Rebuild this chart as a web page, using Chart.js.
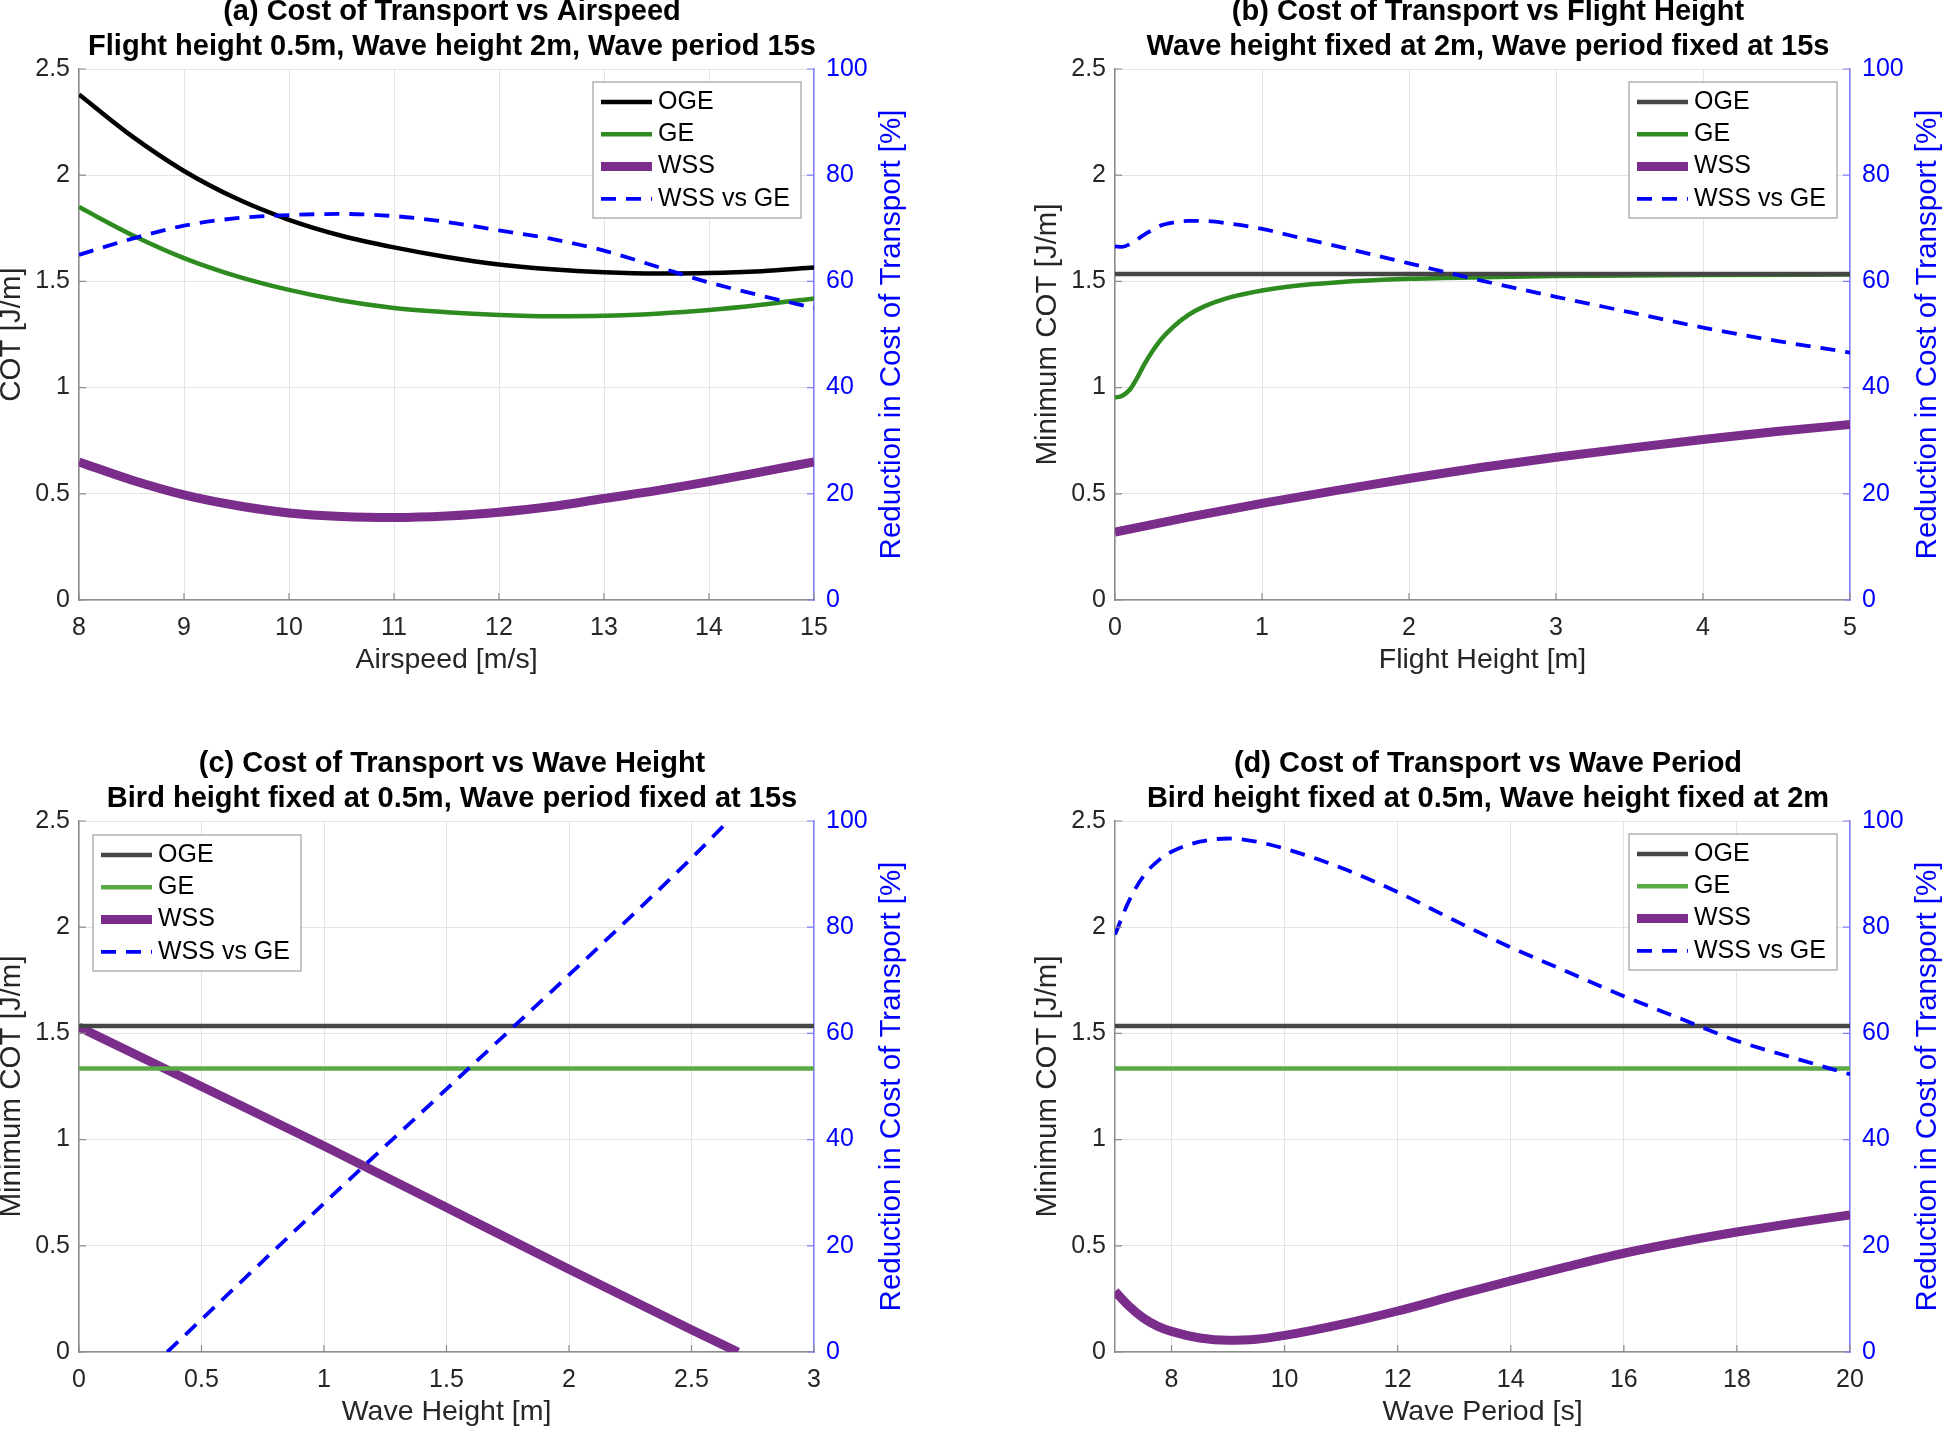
<!DOCTYPE html>
<html>
<head>
<meta charset="utf-8">
<script src="https://cdn.jsdelivr.net/npm/chart.js@4.4.0/dist/chart.umd.min.js"></script>
<style>
  body { margin: 0; background: #fff; width: 1943px; height: 1429px; overflow: hidden; position: relative; }
  canvas { position: absolute; }
</style>
</head>
<body>
<canvas id="panelA" width="970" height="680" style="left:0px;top:-5px"></canvas>
<canvas id="panelB" width="973" height="680" style="left:970px;top:-5px"></canvas>
<canvas id="panelC" width="970" height="680" style="left:0px;top:747px"></canvas>
<canvas id="panelD" width="973" height="680" style="left:970px;top:747px"></canvas>
<script>
// ---- data ----
// (a) vs airspeed
var aX      = [8, 8.5, 9, 9.5, 10, 10.5, 11, 11.5, 12, 12.5, 13, 13.5, 14, 14.5, 15];
var aOGE    = [2.38, 2.185, 2.02, 1.89, 1.79, 1.715, 1.66, 1.615, 1.58, 1.557, 1.543, 1.537, 1.539, 1.548, 1.565];
var aGE     = [1.85, 1.72, 1.61, 1.525, 1.46, 1.41, 1.375, 1.355, 1.342, 1.336, 1.338, 1.348, 1.365, 1.39, 1.42];
var aWSS    = [0.65, 0.565, 0.495, 0.445, 0.41, 0.393, 0.388, 0.395, 0.413, 0.44, 0.478, 0.515, 0.557, 0.603, 0.65];
var aRed    = [65, 68, 70.5, 71.9, 72.5, 72.7, 72.3, 71.2, 69.6, 68, 65.8, 62.8, 59.8, 57.3, 55];
var aTicks  = [8, 9, 10, 11, 12, 13, 14, 15];

// (b) vs flight height
var bOGEx   = [0, 5];
var bOGE    = [1.535, 1.535];
var bGEx    = [0, 0.05, 0.1, 0.15, 0.2, 0.3, 0.4, 0.5, 0.6, 0.8, 1, 1.2, 1.5, 2, 2.5, 3, 4, 5];
var bGE     = [0.953, 0.962, 0.99, 1.045, 1.11, 1.215, 1.288, 1.342, 1.38, 1.428, 1.457, 1.477, 1.495, 1.512, 1.52, 1.525, 1.53, 1.532];
var bWSSx   = [0, 0.5, 1, 1.5, 2, 2.5, 3, 3.5, 4, 4.5, 5];
var bWSS    = [0.32, 0.39, 0.455, 0.515, 0.572, 0.625, 0.672, 0.715, 0.756, 0.793, 0.826];
var bRedx   = [0, 0.05, 0.1, 0.2, 0.3, 0.4, 0.5, 0.6, 0.8, 1, 1.2, 1.5, 2, 2.5, 3, 3.5, 4, 4.5, 5];
var bRed    = [66.6, 66.5, 67, 68.8, 70.4, 71.1, 71.4, 71.4, 70.8, 69.9, 68.6, 66.7, 63.4, 60.1, 57.1, 54.2, 51.3, 48.8, 46.6];
var bTicks  = [0, 1, 2, 3, 4, 5];

// (c) vs wave height
var cFlatx  = [0, 3];
var cOGE    = [1.535, 1.535];
var cGE     = [1.335, 1.335];
var cWSSx   = [0, 0.5, 1, 1.5, 2, 2.5, 2.69];
var cWSS    = [1.53, 1.25, 0.97, 0.68, 0.39, 0.105, 0];
var cRedx   = [0.36, 1, 1.5, 2, 2.5, 2.65];
var cRed    = [0, 28, 49.5, 71, 93, 100];
var cTicks  = [0, 0.5, 1, 1.5, 2, 2.5, 3];

// (d) vs wave period
var dFlatx  = [7, 20];
var dOGE    = [1.535, 1.535];
var dGE     = [1.335, 1.335];
var dX      = [7, 7.25, 7.5, 7.75, 8, 8.5, 9, 9.5, 10, 11, 12, 13, 14, 15, 16, 17, 18, 19, 20];
var dWSS    = [0.285, 0.215, 0.16, 0.122, 0.097, 0.066, 0.055, 0.06, 0.078, 0.13, 0.193, 0.265, 0.335, 0.402, 0.465, 0.518, 0.565, 0.607, 0.645];
var dRed    = [78.6, 85, 89.6, 92.4, 94.2, 96.1, 96.7, 96.1, 94.8, 91.2, 86.6, 81.3, 76.2, 71.6, 67, 62.8, 58.6, 55.4, 52.3];
var dTicks  = [8, 10, 12, 14, 16, 18, 20];

var cotTicks = [0, 0.5, 1, 1.5, 2, 2.5];
var redTicks = [0, 20, 40, 60, 80, 100];

var FONT = "'Liberation Sans', Arial, Helvetica, sans-serif";
var TXT = '#262626';

function pts(xs, ys) {
  return xs.map(function(x, i) { return {x: x, y: ys[i]}; });
}

// inward tick marks, the blue right-hand title and the boxed legend
var frameExtras = {
  id: 'frameExtras',
  afterDraw: function(chart, args, opts) {
    var ctx = chart.ctx, a = chart.chartArea;
    var x = chart.scales.x, y = chart.scales.y, y1 = chart.scales.y1;
    ctx.save();
    ctx.lineWidth = 1.2;
    ctx.strokeStyle = '#8c8c8c';
    ctx.beginPath();
    x.ticks.forEach(function(t) {
      var px = x.getPixelForValue(t.value);
      ctx.moveTo(px, a.bottom); ctx.lineTo(px, a.bottom - 7);
    });
    y.ticks.forEach(function(t) {
      var py = y.getPixelForValue(t.value);
      ctx.moveTo(a.left, py); ctx.lineTo(a.left + 7, py);
    });
    ctx.stroke();
    ctx.strokeStyle = '#8080ff';
    ctx.beginPath();
    y1.ticks.forEach(function(t) {
      var py = y1.getPixelForValue(t.value);
      ctx.moveTo(a.right, py); ctx.lineTo(a.right - 7, py);
    });
    ctx.stroke();
    ctx.restore();

    // right axis title reads bottom-to-top like the left one
    ctx.save();
    ctx.translate(a.right + 78, (a.top + a.bottom) / 2);
    ctx.rotate(-Math.PI / 2);
    ctx.fillStyle = '#0000ff';
    ctx.font = '29.5px ' + FONT;
    ctx.textAlign = 'center';
    ctx.textBaseline = 'middle';
    ctx.fillText(opts.rightTitle, 0, 0);
    ctx.restore();

    // legend
    var w = 208, h = 136;
    var bx = opts.corner === 'tl' ? a.left + 14 : a.right - 13 - w;
    var by = opts.corner === 'tl' ? a.top + 14 : a.top + 13;
    ctx.save();
    ctx.fillStyle = '#fff';
    ctx.fillRect(bx, by, w, h);
    ctx.strokeStyle = '#a0a0a0';
    ctx.lineWidth = 1.2;
    ctx.strokeRect(bx, by, w, h);
    chart.data.datasets.forEach(function(ds, i) {
      var yy = by + 20 + i * 32.3;
      ctx.beginPath();
      ctx.setLineDash(ds.borderDash || []);
      ctx.strokeStyle = ds.borderColor;
      ctx.lineWidth = ds.borderWidth;
      ctx.moveTo(bx + 8, yy); ctx.lineTo(bx + 59, yy);
      ctx.stroke();
      ctx.setLineDash([]);
      ctx.fillStyle = '#000';
      ctx.font = '25px ' + FONT;
      ctx.textBaseline = 'middle';
      ctx.textAlign = 'left';
      ctx.fillText(ds.label, bx + 65, yy);
    });
    ctx.restore();
  }
};

function fixTicks(list) {
  return function(scale) { scale.ticks = list.map(function(v) { return {value: v}; }); };
}

function plainLabel(v) { return String(v); }

function makePanel(id, p) {
  var ctx = document.getElementById(id).getContext('2d');
  return new Chart(ctx, {
    type: 'line',
    data: {
      datasets: [
        { label: 'OGE', data: p.oge, borderColor: p.ogeColor, borderWidth: 4.5, yAxisID: 'y', order: 2 },
        { label: 'GE', data: p.ge, borderColor: p.geColor, borderWidth: 4.5, yAxisID: 'y', order: 3 },
        { label: 'WSS', data: p.wss, borderColor: '#7b2d8c', borderWidth: 9, yAxisID: 'y', order: 4 },
        { label: 'WSS vs GE', data: p.red, borderColor: '#0000ff', borderWidth: 3.8, borderDash: [15, 10], yAxisID: 'y1', order: 1 }
      ]
    },
    options: {
      responsive: false,
      devicePixelRatio: 1,
      animation: false,
      layout: { padding: { left: p.padL, right: p.padR, top: 0, bottom: 0 } },
      elements: {
        point: { radius: 0 },
        line: { cubicInterpolationMode: 'monotone', fill: false }
      },
      plugins: {
        legend: { display: false },
        tooltip: { enabled: false },
        title: {
          display: true,
          text: p.title,
          color: '#000',
          font: { family: FONT, size: 29, weight: 'bold', lineHeight: 1.2 },
          padding: { top: 0, bottom: 4.4 }
        },
        frameExtras: { rightTitle: 'Reduction in Cost of Transport [%]', corner: p.corner }
      },
      scales: {
        x: {
          type: 'linear',
          min: p.xMin, max: p.xMax,
          afterBuildTicks: fixTicks(p.xTicks),
          afterFit: function(s) { s.height = 75; },
          grid: { color: '#e3e3e3', drawTicks: false },
          border: { color: '#8c8c8c', width: 1.5 },
          ticks: { color: TXT, padding: 13, font: { family: FONT, size: 25 }, maxRotation: 0, callback: plainLabel },
          title: { display: true, text: p.xTitle, color: TXT, padding: { top: 0, bottom: 1 },
                   font: { family: FONT, size: 28.5, lineHeight: 1.0 } }
        },
        y: {
          position: 'left',
          min: 0, max: 2.5,
          afterBuildTicks: fixTicks(cotTicks),
          afterFit: function(s) { s.width = 79; },
          grid: { color: '#e3e3e3', drawTicks: false },
          border: { color: '#8c8c8c', width: 1.5 },
          ticks: { color: TXT, padding: 9, font: { family: FONT, size: 25 }, callback: plainLabel },
          title: { display: true, text: p.yTitle, color: TXT, padding: 0,
                   font: { family: FONT, size: 29.5, lineHeight: 0.82 } }
        },
        y1: {
          position: 'right',
          min: 0, max: 100,
          afterBuildTicks: fixTicks(redTicks),
          afterFit: function(s) { s.width = 90; },
          grid: { display: false, drawTicks: false },
          border: { color: '#8080ff', width: 1.5 },
          ticks: { color: '#0000ff', padding: 12, font: { family: FONT, size: 25 }, callback: plainLabel }
        }
      }
    },
    plugins: [frameExtras]
  });
}

makePanel('panelA', {
  title: ['(a) Cost of Transport vs Airspeed', 'Flight height 0.5m, Wave height 2m, Wave period 15s'],
  xTitle: 'Airspeed [m/s]', yTitle: 'COT [J/m]',
  xMin: 8, xMax: 15, xTicks: aTicks, padL: 0, padR: 66, corner: 'tr',
  ogeColor: '#000000', geColor: '#2e8b1f',
  oge: pts(aX, aOGE), ge: pts(aX, aGE), wss: pts(aX, aWSS), red: pts(aX, aRed)
});

makePanel('panelB', {
  title: ['(b) Cost of Transport vs Flight Height', 'Wave height fixed at 2m, Wave period fixed at 15s'],
  xTitle: 'Flight Height [m]', yTitle: 'Minimum COT [J/m]',
  xMin: 0, xMax: 5, xTicks: bTicks, padL: 66, padR: 3, corner: 'tr',
  ogeColor: '#454545', geColor: '#2e8b1f',
  oge: pts(bOGEx, bOGE), ge: pts(bGEx, bGE), wss: pts(bWSSx, bWSS), red: pts(bRedx, bRed)
});

makePanel('panelC', {
  title: ['(c) Cost of Transport vs Wave Height', 'Bird height fixed at 0.5m, Wave period fixed at 15s'],
  xTitle: 'Wave Height [m]', yTitle: 'Minimum COT [J/m]',
  xMin: 0, xMax: 3, xTicks: cTicks, padL: 0, padR: 66, corner: 'tl',
  ogeColor: '#454545', geColor: '#5aa846',
  oge: pts(cFlatx, cOGE), ge: pts(cFlatx, cGE), wss: pts(cWSSx, cWSS), red: pts(cRedx, cRed)
});

makePanel('panelD', {
  title: ['(d) Cost of Transport vs Wave Period', 'Bird height fixed at 0.5m, Wave height fixed at 2m'],
  xTitle: 'Wave Period [s]', yTitle: 'Minimum COT [J/m]',
  xMin: 7, xMax: 20, xTicks: dTicks, padL: 66, padR: 3, corner: 'tr',
  ogeColor: '#454545', geColor: '#5aa846',
  oge: pts(dFlatx, dOGE), ge: pts(dFlatx, dGE), wss: pts(dX, dWSS), red: pts(dX, dRed)
});
</script>
</body>
</html>
